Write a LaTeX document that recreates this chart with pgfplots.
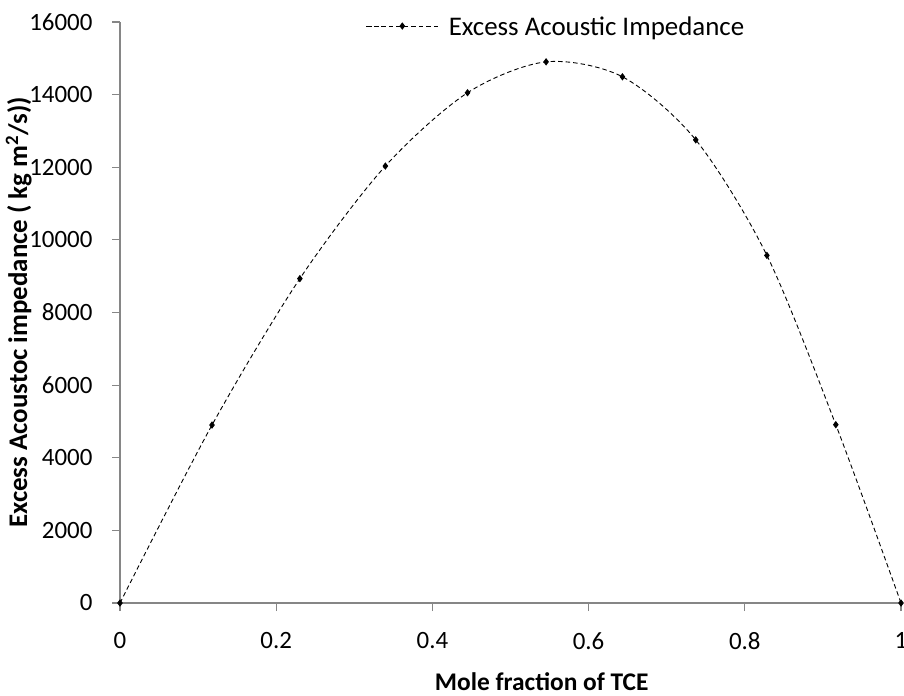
\documentclass[border=0pt]{standalone}
\usepackage{pgfplots}
\pgfplotsset{compat=1.18}
\usepackage{fontspec}
\setmainfont{Carlito}
\definecolor{axgray}{RGB}{134,134,134}
\begin{document}
\begin{tikzpicture}
\useasboundingbox (-120bp,-93bp) rectangle (784bp,603bp);
\begin{axis}[
  scale only axis,
  width=781bp, height=581bp,
  xmin=0, xmax=1, ymin=0, ymax=16000,
  axis lines*=left,
  axis line style={axgray, line width=1.5bp},
  every tick/.style={axgray, line width=1.2bp},
  tick align=outside,
  major tick length=8bp,
  xtick={0,0.2,0.4,0.6,0.8,1},
  ytick={0,2000,...,16000},
  xticklabels={0,0.2,0.4,0.6,0.8,1},
  scaled y ticks=false,
  yticklabel={\pgfmathprintnumber[fixed,1000 sep={},precision=0]{\tick}},
  /pgf/number format/assume math mode=true,
  ticklabel style={font=\fontsize{25}{30}\selectfont, text=black},
  xticklabel style={yshift=-18bp},
  yticklabel style={xshift=-16bp},
  xlabel={\textbf{Mole fraction of TCE}},
  ylabel={\textbf{Excess Acoustoc impedance ( kg m\textsuperscript{2}/s))}},
  xlabel style={font=\fontsize{25.5}{30}\selectfont, at={(axis description cs:0.54,0)}, anchor=base, yshift=-87bp},
  ylabel style={font=\fontsize{27}{32}\selectfont, at={(axis description cs:-0.119,0.5)}, anchor=base},
  legend style={draw=none, fill=none, font=\fontsize{27}{32}\selectfont,
    at={(axis description cs:0.557,0.993)}, anchor=center, inner sep=0pt,
    nodes={inner sep=0pt, text depth=0pt}},
  legend cell align=left,
  /tikz/every odd column/.append style={column sep=10bp},
  legend image code/.code={\draw[mark repeat=2,mark phase=2,#1] plot coordinates {(0bp,0bp) (36bp,0bp) (72bp,0bp)};},
  clip=false,
]
\addplot[black, line width=0.9bp, dash pattern=on 4.5bp off 3bp, smooth, tension=0.5,
  mark=diamond*, mark size=3bp, mark options={solid, fill=black}]
  coordinates {
  (0,0)
  (0.1178,4900)
  (0.2303,8933)
  (0.3398,12033)
  (0.4450,14052)
  (0.5456,14903)
  (0.6433,14491)
  (0.7372,12754)
  (0.8283,9572)
  (0.9165,4910)
  (1,0)
  };
\addlegendentry{Excess Acoustic Impedance}
\end{axis}
\end{tikzpicture}
\end{document}
